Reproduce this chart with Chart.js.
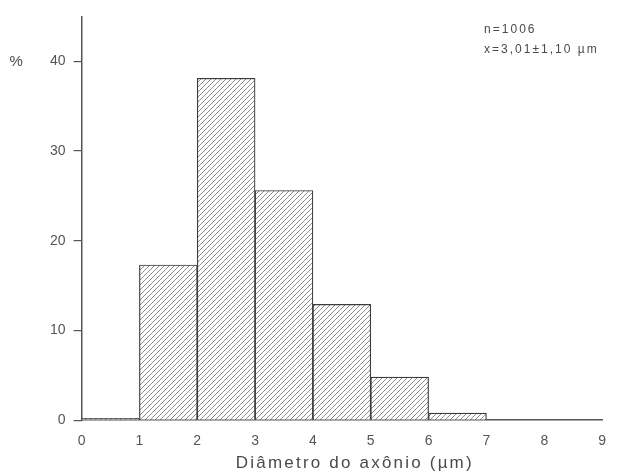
<!DOCTYPE html>
<html>
<head>
<meta charset="utf-8">
<script src="https://cdn.jsdelivr.net/npm/chart.js@4/dist/chart.umd.min.js"></script>
<style>
  html, body { margin: 0; padding: 0; background: #fff; }
  #wrap { width: 619px; height: 476px; }
</style>
</head>
<body>
<div id="wrap"><canvas id="hist"></canvas></div>
<script>
// Histogram of axon diameter (bins of 1 µm)
const binCenters = [0.5, 1.5, 2.5, 3.5, 4.5, 5.5, 6.5, 7.5, 8.5]
const percents = [0.2, 17.3, 38.1, 25.6, 12.9, 4.8, 0.8, 0, 0]
const xTicks = [0, 1, 2, 3, 4, 5, 6, 7, 8, 9]
const yTicks = [0, 10, 20, 30, 40]
const xTitle = 'Diâmetro do axônio (µm)'
const noteLines = ['n=1006', 'x=3,01±1,10 µm']

const textColor = '#4a4a4a'
const lineColor = '#555'
const fontFamily = '"Liberation Sans", Arial, sans-serif'

// diagonal hatch fill, like the printed figure
function makeHatch () {
  const c = document.createElement('canvas')
  c.width = 5
  c.height = 5
  const g = c.getContext('2d')
  g.fillStyle = '#fff'
  g.fillRect(0, 0, 5, 5)
  g.strokeStyle = '#8c8c8c'
  g.lineWidth = 1
  g.beginPath()
  g.moveTo(-1, 6); g.lineTo(6, -1)
  g.moveTo(-1, 1); g.lineTo(1, -1)
  g.moveTo(4, 6); g.lineTo(6, 4)
  g.stroke()
  return g.createPattern(c, 'repeat')
}

// "%" label, axis title and the n / mean text (spaced out like the scan)
const extraText = {
  id: 'extraText',
  afterDraw (chart) {
    const ctx = chart.ctx
    const area = chart.chartArea
    const y = chart.scales.y
    ctx.save()
    ctx.fillStyle = textColor
    ctx.font = '15px ' + fontFamily
    ctx.textBaseline = 'middle'
    ctx.textAlign = 'left'
    ctx.fillText('%', area.left - 72, y.getPixelForValue(40) + 1)

    ctx.letterSpacing = '2px'
    ctx.font = '12px ' + fontFamily
    noteLines.forEach((t, i) => {
      ctx.fillText(t, area.right - 118, area.top + 13 + i * 20)
    })

    ctx.letterSpacing = '2.2px'
    ctx.font = '17px ' + fontFamily
    ctx.textAlign = 'center'
    ctx.textBaseline = 'alphabetic'
    ctx.fillText(xTitle, (area.left + area.right) / 2 + 13, area.bottom + 48)
    ctx.restore()
  }
}

new Chart(document.getElementById('hist'), {
  type: 'bar',
  data: {
    datasets: [{
      data: binCenters.map((x, i) => ({ x, y: percents[i] })),
      backgroundColor: makeHatch(),
      borderColor: '#3c3c3c',
      borderWidth: 1.2,
      barPercentage: 1,
      categoryPercentage: 1
    }]
  },
  options: {
    responsive: true,
    maintainAspectRatio: false,
    animation: false,
    layout: { padding: { left: 42, right: 9, top: 16, bottom: 13 } },
    plugins: {
      legend: { display: false },
      tooltip: { enabled: false }
    },
    scales: {
      x: {
        type: 'linear',
        min: 0,
        max: 9,
        offset: false,
        afterBuildTicks: s => { s.ticks = xTicks.map(v => ({ value: v })) },
        grid: { display: false, drawTicks: false },
        border: { display: true, color: lineColor, width: 1.5 },
        ticks: {
          color: '#555',
          padding: 13,
          font: { family: fontFamily, size: 14 }
        }
      },
      y: {
        min: 0,
        max: 45,
        afterBuildTicks: s => { s.ticks = yTicks.map(v => ({ value: v })) },
        grid: {
          display: true,
          drawOnChartArea: false,
          drawTicks: true,
          tickLength: 8,
          color: lineColor,
          lineWidth: 1.2
        },
        border: { display: true, color: lineColor, width: 1.5 },
        ticks: {
          color: '#555',
          padding: 8,
          font: { family: fontFamily, size: 14 }
        }
      }
    }
  },
  plugins: [extraText]
})
</script>
</body>
</html>
